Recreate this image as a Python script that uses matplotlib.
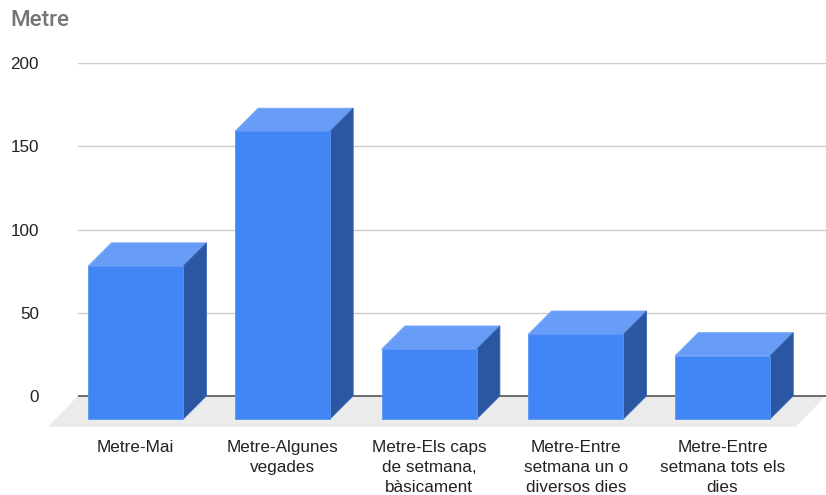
import numpy as np
import matplotlib.pyplot as plt
from matplotlib.patches import Polygon

# data
categories = [
    "Metre-Mai",
    "Metre-Algunes\nvegades",
    "Metre-Els caps\nde setmana,\nbàsicament",
    "Metre-Entre\nsetmana un o\ndiversos dies",
    "Metre-Entre\nsetmana tots els\ndies",
]
values = [92, 173, 42, 51, 38]
yticks = [0, 50, 100, 150, 200]

W, H = 826, 495
fig = plt.figure(figsize=(W / 100, H / 100), dpi=100)

# axes = back wall of the 3d box
ax_left, ax_right = 78, 826
ax_top, ax_bottom = 63.3, 426.7
ax = fig.add_axes([ax_left / W, (H - ax_bottom) / H,
                   (ax_right - ax_left) / W, (ax_bottom - ax_top) / H])
xmin, xmax = -0.552, 4.547
ymin, ymax = -18.6, 200
ax.set_xlim(xmin, xmax)
ax.set_ylim(ymin, ymax)

# depth of the bars in data units (about 23 px each way)
px_x = (ax_right - ax_left) / (xmax - xmin)
px_y = (ax_bottom - ax_top) / (ymax - ymin)
depth = 23.3
dx = depth / px_x
dy = depth / px_y
w = 0.648

front_c = "#4285f4"
top_c = "#679df6"
side_c = "#2a56a2"

x = np.arange(len(values))

# floor
fdx = 30 / px_x
floor = Polygon([(xmin, 0), (xmax, 0), (xmax - fdx, ymin), (xmin - fdx, ymin)],
                closed=True, facecolor="#ebebeb", edgecolor="none",
                zorder=0, clip_on=False)
ax.add_patch(floor)

# grid lines on back wall
for t in yticks[1:]:
    ax.axhline(t, color="#cccccc", lw=1, zorder=1)
ax.axhline(0, color="#555555", lw=1.2, zorder=1)

# bars: front, top and side faces
ax.bar(x - dx, values, width=w, bottom=-dy, color=front_c,
       edgecolor="#5b95f5", linewidth=0.6, zorder=3)
for i, v in enumerate(values):
    x0, x1 = i - w / 2, i + w / 2
    top = Polygon([(x0 - dx, v - dy), (x1 - dx, v - dy), (x1, v), (x0, v)],
                  closed=True, facecolor=top_c, edgecolor="#7aaaf7",
                  linewidth=0.6, zorder=2)
    side = Polygon([(x1 - dx, -dy), (x1, 0), (x1, v), (x1 - dx, v - dy)],
                   closed=True, facecolor=side_c, edgecolor="#3c68b5",
                   linewidth=0.6, zorder=2)
    ax.add_patch(top)
    ax.add_patch(side)

# ticks
ax.set_yticks(yticks)
ax.set_yticklabels([str(t) for t in yticks])
ax.set_xticks(x - dx)
ax.set_xticklabels(categories, linespacing=1.43)
ax.tick_params(axis="y", length=0, pad=28, labelsize=12.3, labelcolor="#222222")
ax.tick_params(axis="x", length=0, pad=9.5, labelsize=12.3, labelcolor="#222222")
for lab in ax.get_xticklabels() + ax.get_yticklabels():
    lab.set_family("Liberation Sans")
for s in ax.spines.values():
    s.set_visible(False)

fig.text(10 / W, 1 - 20 / H, "Metre", fontsize=16.2, color="#757575",
         family="Roboto", fontweight="medium", va="center", ha="left")

fig.savefig("out.png", dpi=100)
